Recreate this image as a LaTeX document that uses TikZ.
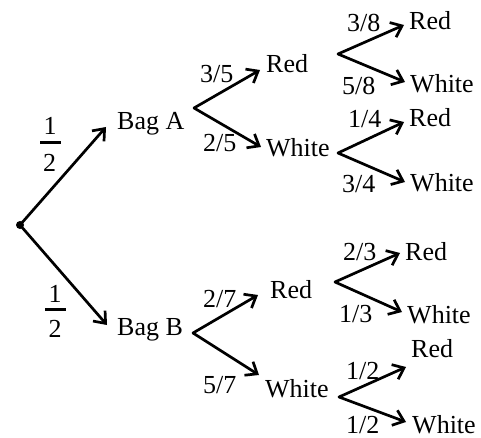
\documentclass[tikz,border=0pt]{standalone}
\usepackage{fontspec}
\setmainfont{Liberation Serif}
\usetikzlibrary{arrows.meta}
\begin{document}
\begin{tikzpicture}[x=1pt,y=-1pt,
  lbl/.style={anchor=base west,inner sep=0pt,font=\fontsize{26}{30}\selectfont},
  dig/.style={inner sep=0pt,font=\fontsize{26}{30}\selectfont},
  edge/.style={line width=2.7pt,-{Straight Barb[length=10pt,width=16pt]},line cap=round,line join=miter},
  fbar/.style={fill=black,inner sep=0pt,minimum width=21pt,minimum height=3pt}]
\useasboundingbox (0,0) rectangle (481,438);
% root
\node[circle,fill=black,inner sep=0pt,minimum size=8pt] (root) at (20,225) {};
% first level
\node[lbl] (bagA) at (117,130) {Bag A};
\node[lbl] (bagB) at (117,335) {Bag B};
\coordinate (tA) at (106,127);
\coordinate (tB) at (107,325);
\draw[edge] (root.center) -- (tA);
\draw[edge] (root.center) -- (tB);
% fractions 1/2
\node[dig] (n1) at (50,125.5) {1};
\node[fbar] (b1) at (50.5,143) {};
\node[dig] (d1) at (49.5,162.5) {2};
\node[dig] (n2) at (55,293.5) {1};
\node[fbar] (b2) at (55.5,309) {};
\node[dig] (d2) at (55,329) {2};
% Bag A branches
\coordinate (vA) at (194,108);
\node[lbl] (AR) at (266,73) {Red};
\node[lbl] (AW) at (266,157) {White};
\coordinate (tAR) at (260,70);
\coordinate (tAW) at (261,147);
\draw[edge] (vA) -- (tAR);
\draw[edge] (vA) -- (tAW);
\node[lbl] (p35) at (200,83) {3/5};
\node[lbl] (p25) at (203,152) {2/5};
% Red A branches
\coordinate (vAR) at (338,54);
\coordinate (tARR) at (404,25);
\coordinate (tARW) at (405,82);
\draw[edge] (vAR) -- (tARR);
\draw[edge] (vAR) -- (tARW);
\node[lbl] (ARR) at (409,30) {Red};
\node[lbl] (ARW) at (410,93) {White};
\node[lbl] (p38) at (347,32) {3/8};
\node[lbl] (p58) at (342,95) {5/8};
% White A branches
\coordinate (vAW) at (338,153);
\coordinate (tAWR) at (404,122);
\coordinate (tAWW) at (405,182);
\draw[edge] (vAW) -- (tAWR);
\draw[edge] (vAW) -- (tAWW);
\node[lbl] (AWR) at (409,127) {Red};
\node[lbl] (AWW) at (410,192) {White};
\node[lbl] (p14) at (348,128) {1/4};
\node[lbl] (p34) at (342,193) {3/4};
% Bag B branches
\coordinate (vB) at (193,333);
\node[lbl] (BR) at (270,298) {Red};
\node[lbl] (BW) at (265,397) {White};
\coordinate (tBR) at (258,295);
\coordinate (tBW) at (259,375);
\draw[edge] (vB) -- (tBR);
\draw[edge] (vB) -- (tBW);
\node[lbl] (p27) at (203,307) {2/7};
\node[lbl] (p57) at (203,393) {5/7};
% Red B branches
\coordinate (vBR) at (335,282);
\coordinate (tBRR) at (400,253);
\coordinate (tBRW) at (402,312);
\draw[edge] (vBR) -- (tBRR);
\draw[edge] (vBR) -- (tBRW);
\node[lbl] (BRR) at (405,260) {Red};
\node[lbl] (BRW) at (407,323) {White};
\node[lbl] (p23) at (343,260) {2/3};
\node[lbl] (p13) at (339,322) {1/3};
% White B branches
\coordinate (vBW) at (339,397);
\coordinate (tBWR) at (406,367);
\coordinate (tBWW) at (406,422);
\draw[edge] (vBW) -- (tBWR);
\draw[edge] (vBW) -- (tBWW);
\node[lbl] (BWR) at (411,357) {Red};
\node[lbl] (BWW) at (412,433) {White};
\node[lbl] (p12a) at (346,379) {1/2};
\node[lbl] (p12b) at (346,433) {1/2};
\end{tikzpicture}
\end{document}
